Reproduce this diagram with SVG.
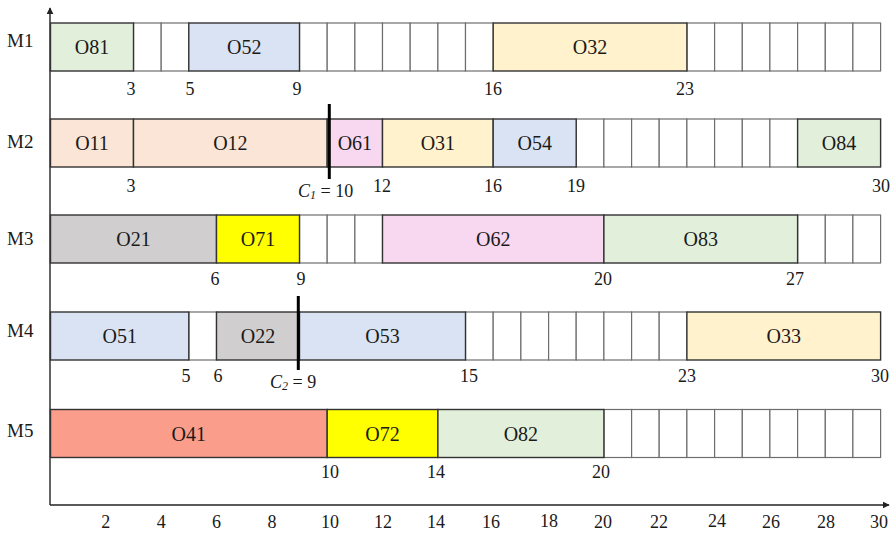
<svg xmlns="http://www.w3.org/2000/svg" width="895" height="534" viewBox="0 0 895 534">
  <defs>
    <marker id="arrow" viewBox="0 0 10 10" refX="9" refY="5" markerWidth="7" markerHeight="7" orient="auto" markerUnits="userSpaceOnUse">
      <path d="M0,0 L10,5 L0,10 Z" fill="#222"/>
    </marker>
    <style>
      text { font-family: "Liberation Serif", "Times New Roman", serif; fill: #1a1a1a; }
      .mlab { font-size: 19px; text-anchor: start; }
      .op text { font-size: 20px; text-anchor: middle; }
      .op rect { stroke: #333; stroke-width: 1.4; }
      .cell { fill: #fff; stroke: #6e6e6e; stroke-width: 1.2; }
      .num { font-size: 18px; text-anchor: middle; }
      .tick { font-size: 18px; text-anchor: middle; }
      .green { fill: #e2efda; }
      .blue { fill: #dae3f3; }
      .cream { fill: #fff2cc; }
      .peach { fill: #fbe5d6; }
      .pink { fill: #f8d8f0; }
      .grey { fill: #d0cece; }
      .yellow { fill: #ffff00; }
      .salmon { fill: #fb9d8b; }
      .axis { stroke: #222; stroke-width: 1.4; fill: none; }
      .cut { stroke: #000; stroke-width: 3; }
    </style>
  </defs>

  <rect width="895" height="534" fill="#fff"/>

  <!-- axes -->
  <g id="axes">
    <line class="axis" x1="50" y1="505" x2="50" y2="8" marker-end="url(#arrow)"/>
    <line class="axis" x1="50" y1="505" x2="889" y2="505" marker-end="url(#arrow)"/>
    <text class="tick" x="105.8" y="528">2</text>
    <text class="tick" x="161.2" y="528">4</text>
    <text class="tick" x="216.5" y="528">6</text>
    <text class="tick" x="271.9" y="528">8</text>
    <text class="tick" x="330" y="528">10</text>
    <text class="tick" x="383" y="528">12</text>
    <text class="tick" x="436" y="528">14</text>
    <text class="tick" x="491" y="528">16</text>
    <text class="tick" x="549" y="527">18</text>
    <text class="tick" x="603" y="528">20</text>
    <text class="tick" x="659" y="528">22</text>
    <text class="tick" x="717" y="527">24</text>
    <text class="tick" x="771" y="528">26</text>
    <text class="tick" x="826" y="528">28</text>
    <text class="tick" x="879" y="528">30</text>
  </g>

  <!-- machine M1 -->
  <g id="M1">
    <text class="mlab" x="7" y="47">M1</text>
    <rect class="cell" x="133.5" y="23" width="27.7" height="48"/>
    <rect class="cell" x="161.2" y="23" width="27.6" height="48"/>
    <rect class="cell" x="299.5" y="23" width="27.7" height="48"/>
    <rect class="cell" x="327.2" y="23" width="27.7" height="48"/>
    <rect class="cell" x="354.9" y="23" width="27.6" height="48"/>
    <rect class="cell" x="382.5" y="23" width="27.7" height="48"/>
    <rect class="cell" x="410.2" y="23" width="27.7" height="48"/>
    <rect class="cell" x="437.9" y="23" width="27.6" height="48"/>
    <rect class="cell" x="465.5" y="23" width="27.7" height="48"/>
    <rect class="cell" x="686.9" y="23" width="27.7" height="48"/>
    <rect class="cell" x="714.6" y="23" width="27.7" height="48"/>
    <rect class="cell" x="742.3" y="23" width="27.6" height="48"/>
    <rect class="cell" x="769.9" y="23" width="27.7" height="48"/>
    <rect class="cell" x="797.6" y="23" width="27.7" height="48"/>
    <rect class="cell" x="825.3" y="23" width="27.6" height="48"/>
    <rect class="cell" x="852.9" y="23" width="27.7" height="48"/>
    <g id="O81" class="op"><rect class="green" x="50.5" y="23" width="83" height="48"/><text x="92" y="54">O81</text></g>
    <g id="O52" class="op"><rect class="blue" x="188.8" y="23" width="110.7" height="48"/><text x="244.2" y="54">O52</text></g>
    <g id="O32" class="op"><rect class="cream" x="493.2" y="23" width="193.7" height="48"/><text x="590" y="54">O32</text></g>
    <text class="num" x="131" y="95">3</text>
    <text class="num" x="190" y="95">5</text>
    <text class="num" x="297" y="95">9</text>
    <text class="num" x="493" y="95">16</text>
    <text class="num" x="685" y="95">23</text>
  </g>

  <!-- machine M2 -->
  <g id="M2">
    <text class="mlab" x="7" y="148">M2</text>
    <rect class="cell" x="576.2" y="119" width="27.7" height="48"/>
    <rect class="cell" x="603.9" y="119" width="27.7" height="48"/>
    <rect class="cell" x="631.6" y="119" width="27.6" height="48"/>
    <rect class="cell" x="659.2" y="119" width="27.7" height="48"/>
    <rect class="cell" x="686.9" y="119" width="27.7" height="48"/>
    <rect class="cell" x="714.6" y="119" width="27.7" height="48"/>
    <rect class="cell" x="742.3" y="119" width="27.6" height="48"/>
    <rect class="cell" x="769.9" y="119" width="27.7" height="48"/>
    <g id="O11" class="op"><rect class="peach" x="50.5" y="119" width="83" height="48"/><text x="92" y="150">O11</text></g>
    <g id="O12" class="op"><rect class="peach" x="133.5" y="119" width="193.7" height="48"/><text x="230.4" y="150">O12</text></g>
    <g id="O61" class="op"><rect class="pink" x="327.2" y="119" width="55.3" height="48"/><text x="354.9" y="150">O61</text></g>
    <g id="O31" class="op"><rect class="cream" x="382.5" y="119" width="110.7" height="48"/><text x="437.9" y="150">O31</text></g>
    <g id="O54" class="op"><rect class="blue" x="493.2" y="119" width="83" height="48"/><text x="534.7" y="150">O54</text></g>
    <g id="O84" class="op"><rect class="green" x="797.6" y="119" width="83" height="48"/><text x="839" y="150">O84</text></g>
    <text class="num" x="131" y="192">3</text>
    <text class="num" x="382" y="192">12</text>
    <text class="num" x="493" y="192">16</text>
    <text class="num" x="576" y="192">19</text>
    <text class="num" x="881" y="192">30</text>
  </g>

  <!-- machine M3 -->
  <g id="M3">
    <text class="mlab" x="7" y="245">M3</text>
    <rect class="cell" x="299.5" y="215" width="27.7" height="48"/>
    <rect class="cell" x="327.2" y="215" width="27.7" height="48"/>
    <rect class="cell" x="354.9" y="215" width="27.6" height="48"/>
    <rect class="cell" x="797.6" y="215" width="27.7" height="48"/>
    <rect class="cell" x="825.3" y="215" width="27.6" height="48"/>
    <rect class="cell" x="852.9" y="215" width="27.7" height="48"/>
    <g id="O21" class="op"><rect class="grey" x="50.5" y="215" width="166" height="48"/><text x="133.5" y="246">O21</text></g>
    <g id="O71" class="op"><rect class="yellow" x="216.5" y="215" width="83" height="48"/><text x="258" y="246">O71</text></g>
    <g id="O62" class="op"><rect class="pink" x="382.5" y="215" width="221.4" height="48"/><text x="493.2" y="246">O62</text></g>
    <g id="O83" class="op"><rect class="green" x="603.9" y="215" width="193.7" height="48"/><text x="700.7" y="246">O83</text></g>
    <text class="num" x="215" y="285">6</text>
    <text class="num" x="301" y="285">9</text>
    <text class="num" x="603" y="285">20</text>
    <text class="num" x="795" y="285">27</text>
  </g>

  <!-- machine M4 -->
  <g id="M4">
    <text class="mlab" x="7" y="337">M4</text>
    <rect class="cell" x="188.8" y="312" width="27.7" height="48"/>
    <rect class="cell" x="465.5" y="312" width="27.7" height="48"/>
    <rect class="cell" x="493.2" y="312" width="27.7" height="48"/>
    <rect class="cell" x="520.9" y="312" width="27.7" height="48"/>
    <rect class="cell" x="548.6" y="312" width="27.6" height="48"/>
    <rect class="cell" x="576.2" y="312" width="27.7" height="48"/>
    <rect class="cell" x="603.9" y="312" width="27.7" height="48"/>
    <rect class="cell" x="631.6" y="312" width="27.6" height="48"/>
    <rect class="cell" x="659.2" y="312" width="27.7" height="48"/>
    <g id="O51" class="op"><rect class="blue" x="50.5" y="312" width="138.3" height="48"/><text x="119.7" y="343">O51</text></g>
    <g id="O22" class="op"><rect class="grey" x="216.5" y="312" width="83" height="48"/><text x="258" y="343">O22</text></g>
    <g id="O53" class="op"><rect class="blue" x="299.5" y="312" width="166" height="48"/><text x="382.5" y="343">O53</text></g>
    <g id="O33" class="op"><rect class="cream" x="686.9" y="312" width="193.7" height="48"/><text x="783.7" y="343">O33</text></g>
    <text class="num" x="186" y="382">5</text>
    <text class="num" x="218" y="382">6</text>
    <text class="num" x="469" y="382">15</text>
    <text class="num" x="687" y="382">23</text>
    <text class="num" x="880" y="382">30</text>
  </g>

  <!-- machine M5 -->
  <g id="M5">
    <text class="mlab" x="7" y="437">M5</text>
    <rect class="cell" x="603.9" y="409.5" width="27.7" height="48"/>
    <rect class="cell" x="631.6" y="409.5" width="27.6" height="48"/>
    <rect class="cell" x="659.2" y="409.5" width="27.7" height="48"/>
    <rect class="cell" x="686.9" y="409.5" width="27.7" height="48"/>
    <rect class="cell" x="714.6" y="409.5" width="27.7" height="48"/>
    <rect class="cell" x="742.3" y="409.5" width="27.6" height="48"/>
    <rect class="cell" x="769.9" y="409.5" width="27.7" height="48"/>
    <rect class="cell" x="797.6" y="409.5" width="27.7" height="48"/>
    <rect class="cell" x="825.3" y="409.5" width="27.6" height="48"/>
    <rect class="cell" x="852.9" y="409.5" width="27.7" height="48"/>
    <g id="O41" class="op"><rect class="salmon" x="50.5" y="409.5" width="276.7" height="48"/><text x="188.8" y="440.5">O41</text></g>
    <g id="O72" class="op"><rect class="yellow" x="327.2" y="409.5" width="110.7" height="48"/><text x="382.5" y="440.5">O72</text></g>
    <g id="O82" class="op"><rect class="green" x="437.9" y="409.5" width="166" height="48"/><text x="520.9" y="440.5">O82</text></g>
    <text class="num" x="330" y="478">10</text>
    <text class="num" x="436" y="478">14</text>
    <text class="num" x="601" y="478">20</text>
  </g>

  <!-- cut lines C1 and C2 -->
  <g id="cuts">
    <line class="cut" x1="329.3" y1="104" x2="329.3" y2="179"/>
    <text x="298" y="197" style="font-size:18px"><tspan font-style="italic">C</tspan><tspan font-style="italic" font-size="12" dy="2">1</tspan><tspan dy="-2"> = 10</tspan></text>
    <line class="cut" x1="298.3" y1="296" x2="298.3" y2="370"/>
    <text x="270" y="388" style="font-size:18px"><tspan font-style="italic">C</tspan><tspan font-style="italic" font-size="12" dy="2">2</tspan><tspan dy="-2"> = 9</tspan></text>
  </g>
</svg>
